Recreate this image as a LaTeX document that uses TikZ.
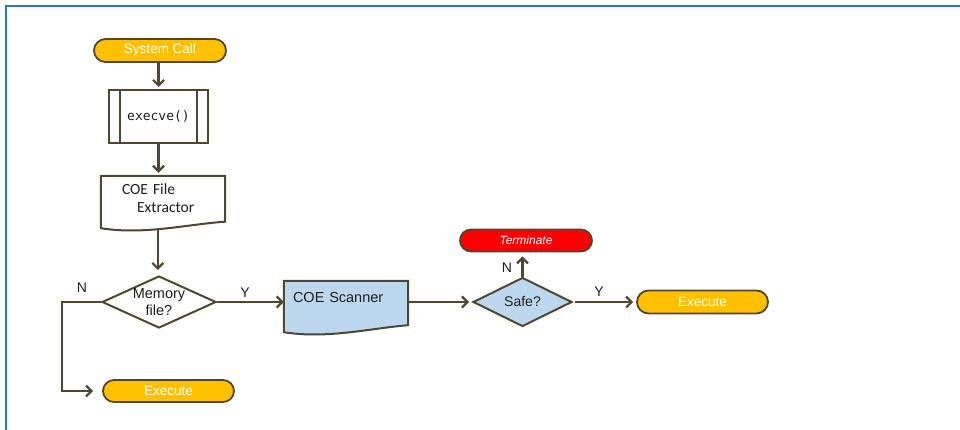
\documentclass[tikz,border=0pt]{standalone}
\usepackage{fontspec}
\setmainfont{Liberation Sans}
\newfontfamily\calfont{Carlito}
\setmonofont{DejaVu Sans Mono}
\usetikzlibrary{shapes.geometric,shapes.misc,arrows.meta,backgrounds,calc}

\definecolor{edge}{HTML}{4E4832}
\definecolor{gold}{HTML}{FFC000}
\definecolor{paleblue}{HTML}{BDD7EE}
\definecolor{frameblue}{HTML}{2E75B6}
\definecolor{ink}{HTML}{1E1E1E}

\tikzset{
  arr/.style={draw=edge, line width=2.4pt,
    -{Straight Barb[length=5.5pt,width=11pt,line width=2.2pt]}},
  term/.style={rounded rectangle, draw=edge, line width=1.8pt, fill=gold,
    text=white, minimum width=132pt, minimum height=23pt, inner sep=0pt,
    font=\fontsize{13.5}{16}\selectfont},
  procbox/.style={rectangle, draw=edge, line width=2pt, minimum width=99pt,
    minimum height=53pt, inner sep=0pt, text=ink,
    font=\ttfamily\fontsize{13}{16}\selectfont},
  docbox/.style={rectangle, inner sep=0pt, text=ink},
  docshape/.style={draw=edge, line width=2pt},
  decision/.style={diamond, draw=edge, line width=2pt, inner sep=0pt,
    aspect=2.2, text=ink, align=center, font=\fontsize{14.5}{17}\selectfont},
  lbl/.style={text=ink, font=\fontsize{14}{16}\selectfont, inner sep=0pt}
}

\begin{document}
\begin{tikzpicture}[x=1pt,y=-1pt]
\useasboundingbox (0,0) rectangle (960,430);

% page frame
\draw[frameblue, line width=1.4pt] (6,432) -- (6,6) -- (962,6);

% left column
\node[term] (sys) at (160,50.5) {System Call};
\node[procbox] (exe) at (158.5,116.5) {execve()};
\draw[edge, line width=2pt]
  ([xshift=12pt]exe.north west) -- ([xshift=12pt]exe.south west)
  ([xshift=-12pt]exe.north east) -- ([xshift=-12pt]exe.south east);

\node[docbox, minimum width=124pt, minimum height=44pt, text width=82pt,
      inner xsep=21pt, align=left, font=\calfont\fontsize{15.5}{18}\selectfont]
  (ext) at (163,198) {COE File\\\hspace*{15pt}Extractor};

\node[decision, inner sep=-8pt, minimum width=114pt, minimum height=52pt]
  (mem) at (159,302) {Memory\\file?};

\node[term, minimum width=131pt, minimum height=22pt] (exL) at (168.5,391)
  {Execute};

% middle and right
\node[docbox, minimum width=124pt, minimum height=42pt, text width=106pt,
      inner xsep=9pt, align=left, text depth=10pt,
      font=\fontsize{14.5}{17}\selectfont]
  (scan) at (346,302) {COE Scanner};

\node[decision, fill=paleblue, minimum width=99pt, minimum height=49pt,
      font=\fontsize{14}{16}\selectfont] (safe) at (522.5,302) {Safe?};

\node[term, fill=red, minimum height=22pt,
      font=\itshape\fontsize{12}{14}\selectfont] (term) at (526,240.5)
  {Terminate};

\node[term, minimum width=131pt] (exR) at (702.5,302) {Execute};

% document outlines with wavy bottom edges
\begin{scope}[on background layer]
  \path[docshape, fill=white]
    (ext.north west) -- (ext.north east) -- ($(ext.south east)+(0,1.5)$)
    .. controls ($(ext.south west)+(86.8,4)$) and ($(ext.south west)+(43.4,15)$)
    .. ($(ext.south west)+(0,8)$) -- cycle;
  \path[docshape, fill=paleblue]
    (scan.north west) -- (scan.north east) -- ($(scan.south east)+(0,2)$)
    .. controls ($(scan.south west)+(86.8,5)$) and ($(scan.south west)+(43.4,16)$)
    .. ($(scan.south west)+(0,9)$) -- cycle;
\end{scope}
\coordinate (extfoot) at ($(ext.south west)+(57,9)$);

% connectors
\draw[arr, shorten >=2pt] (sys.south -| exe.north) -- (exe.north);
\draw[arr, shorten >=3pt] (exe.south) -- (exe.south |- ext.north);
\draw[arr, shorten >=5pt] (extfoot) -- (extfoot |- mem.north);
\draw[arr, shorten >=9pt] (mem.west) -- ++(-39,0) |- (exL.west);
\draw[arr] (mem.east) -- (scan.west);
\draw[arr, shorten >=3pt] (scan.east) -- (safe.west);
\draw[arr, shorten >=4pt] (safe.north) -- (safe.north |- term.south);
\draw[arr, shorten <=2pt, shorten >=3pt] (safe.east) -- (exR.west);

% branch labels
\node[lbl] (n1) at (82,288) {N};
\node[lbl] (y1) at (245,293) {Y};
\node[lbl] (n2) at (507,268) {N};
\node[lbl] (y2) at (599,292) {Y};
\end{tikzpicture}
\end{document}
